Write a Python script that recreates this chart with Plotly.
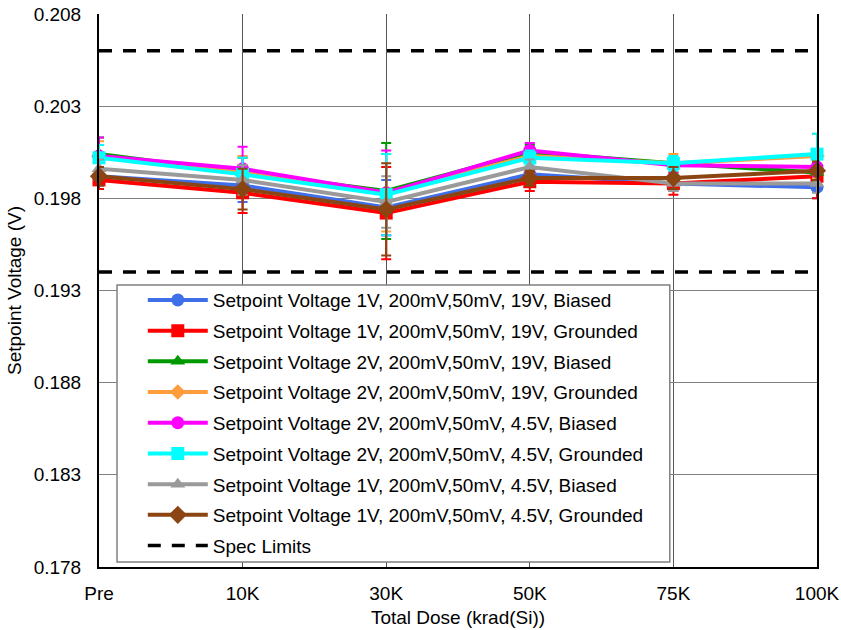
import plotly.graph_objects as go

categories = ["Pre", "10K", "30K", "50K", "75K", "100K"]

series_names = [
    "Setpoint Voltage 1V, 200mV,50mV, 19V, Biased",
    "Setpoint Voltage 1V, 200mV,50mV, 19V, Grounded",
    "Setpoint Voltage 2V, 200mV,50mV, 19V, Biased",
    "Setpoint Voltage 2V, 200mV,50mV, 19V, Grounded",
    "Setpoint Voltage 2V, 200mV,50mV, 4.5V, Biased",
    "Setpoint Voltage 2V, 200mV,50mV, 4.5V, Grounded",
    "Setpoint Voltage 1V, 200mV,50mV, 4.5V, Biased",
    "Setpoint Voltage 1V, 200mV,50mV, 4.5V, Grounded",
]

v_1v_19v_biased = [0.1992, 0.1987, 0.1975, 0.1993, 0.1988, 0.1986]
v_1v_19v_grounded = [0.1990, 0.1983, 0.1972, 0.1989, 0.1988, 0.1992]
v_2v_19v_biased = [0.2004, 0.1994, 0.1984, 0.2005, 0.1999, 0.1994]
v_2v_19v_grounded = [0.2003, 0.1994, 0.1983, 0.2003, 0.1999, 0.2003]
v_2v_45v_biased = [0.2003, 0.1996, 0.1983, 0.2006, 0.1998, 0.1997]
v_2v_45v_grounded = [0.2002, 0.1993, 0.1982, 0.2002, 0.1999, 0.2004]
v_1v_45v_biased = [0.1996, 0.1990, 0.1978, 0.1997, 0.1988, 0.1988]
v_1v_45v_grounded = [0.1992, 0.1985, 0.1974, 0.1991, 0.1991, 0.1995]

err_1v_19v_biased = [0.0005, 0.0009, 0.0015, 0.0004, 0.0004, 0.0006]
err_1v_19v_grounded = [0.0005, 0.0011, 0.0025, 0.0005, 0.0006, 0.0012]
err_2v_19v_biased = [0.0009, 0.0008, 0.0026, 0.0004, 0.0003, 0.0005]
err_2v_19v_grounded = [0.0008, 0.0009, 0.0021, 0.0004, 0.0005, 0.0012]
err_2v_45v_biased = [0.0010, 0.0012, 0.0023, 0.0004, 0.0004, 0.0005]
err_2v_45v_grounded = [0.0007, 0.0009, 0.0022, 0.0004, 0.0004, 0.0011]
err_1v_45v_biased = [0.0005, 0.0008, 0.0014, 0.0004, 0.0004, 0.0005]
err_1v_45v_grounded = [0.0005, 0.0011, 0.0025, 0.0004, 0.0006, 0.0005]

spec_upper = 0.206
spec_lower = 0.194

y_ticks = [0.178, 0.183, 0.188, 0.193, 0.198, 0.203, 0.208]

values = [v_1v_19v_biased, v_1v_19v_grounded, v_2v_19v_biased, v_2v_19v_grounded,
          v_2v_45v_biased, v_2v_45v_grounded, v_1v_45v_biased, v_1v_45v_grounded]
errors = [err_1v_19v_biased, err_1v_19v_grounded, err_2v_19v_biased, err_2v_19v_grounded,
          err_2v_45v_biased, err_2v_45v_grounded, err_1v_45v_biased, err_1v_45v_grounded]
colors = ["#3F6FE8", "#FF0000", "#009A00", "#FF9D3C", "#FF00FF", "#00FFFF", "#9A9A9A", "#8B4513"]
symbols = ["circle", "square", "triangle-up", "diamond", "circle", "square", "triangle-up", "diamond"]
sizes = [13, 13, 13, 12, 13, 13, 13, 14]

FONT = "Liberation Sans, Arial, sans-serif"
FS = 19

fig = go.Figure()
for i, (name, vals, errs) in enumerate(zip(series_names, values, errors)):
    fig.add_trace(go.Scatter(
        x=categories, y=vals, name=name, mode="lines+markers",
        line=dict(color=colors[i], width=4),
        marker=dict(symbol=symbols[i], size=sizes[i], color=colors[i]),
        error_y=dict(type="data", array=errs, visible=True, color=colors[i], thickness=2, width=5),
        cliponaxis=False, legendgroup=f"g{i}",
    ))

spec_x = categories + [None] + categories
spec_y = [spec_upper] * len(categories) + [None] + [spec_lower] * len(categories)
fig.add_trace(go.Scatter(
    x=spec_x, y=spec_y, name="Spec Limits", mode="lines",
    line=dict(color="black", width=3.5, dash="13px,11px"), connectgaps=False,
    legendgroup="spec",
))

# legend frame
fig.add_shape(type="rect", xref="paper", yref="paper",
              x0=0.0251, x1=0.795, y0=0.009, y1=0.51,
              line=dict(color="#808080", width=1.5), fillcolor="white", layer="above")

fig.update_layout(
    width=841, height=630,
    margin=dict(l=99, r=24, t=14, b=63),
    paper_bgcolor="white", plot_bgcolor="white",
    font=dict(family=FONT, size=FS, color="black"),
    showlegend=True,
    legend=dict(
        x=0.061, y=0.517, xanchor="left", yanchor="top",
        bgcolor="rgba(0,0,0,0)", borderwidth=0,
        font=dict(family=FONT, size=FS, color="black"),
        itemwidth=60, tracegroupgap=3,
    ),
    xaxis=dict(
        type="category", range=[0, 5], automargin=False,
        title=dict(text="Total Dose (krad(Si))", font=dict(size=FS), standoff=8),
        showgrid=True, gridcolor="#555555", gridwidth=1,
        showline=True, linecolor="black", linewidth=2,
        ticks="outside", ticklen=8, tickcolor="rgba(0,0,0,0)",
        tickfont=dict(size=FS), ticklabeloverflow="allow",
    ),
    yaxis=dict(
        range=[0.178, 0.208], tickvals=y_ticks, tickformat=".3f", automargin=False,
        title=dict(text="Setpoint Voltage (V)", font=dict(size=FS), standoff=7),
        showgrid=True, gridcolor="#808080", gridwidth=1,
        showline=True, linecolor="black", linewidth=2, mirror=True,
        ticks="outside", ticklen=12, tickcolor="rgba(0,0,0,0)",
        tickfont=dict(size=FS), zeroline=False, ticklabeloverflow="allow",
    ),
)

fig.write_html(
    "out.html",
    config={"displayModeBar": False},
    post_script="document.body.style.margin='0';document.body.style.overflow='hidden';",
)
